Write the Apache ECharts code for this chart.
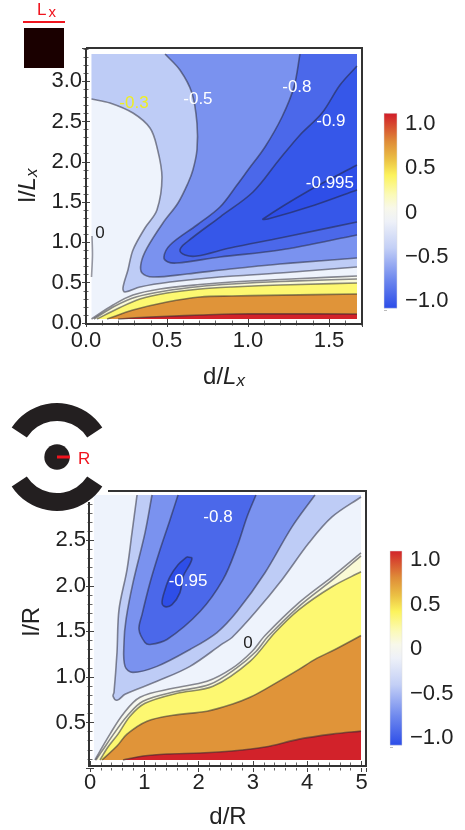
<!DOCTYPE html>
<html>
<head>
<meta charset="utf-8">
<style>
  html, body { margin: 0; padding: 0; background: #fff; }
  #chart { width: 465px; height: 830px; }
</style>
<script src="https://cdn.jsdelivr.net/npm/echarts@6/dist/echarts.min.js"></script>
</head>
<body>
<div id="chart"></div>
<script>
// contour colours, shared by both panels
const colWhite = "#EEF3FC";
const colLight = "#BECCF6";
const colMid = "#7A92EF";
const colDeep = "#4B68EA";
const colDeeper = "#3657E9";
const colDeepest = "#2E4EE8";
const colPale = "#F6F7EE";
const colCream = "#FAFAD6";
const colYellow = "#FDF871";
const colOrange = "#E09439";
const colRed = "#D2222A";

// upper panel, contours in d/Lx, l/Lx
const topLeft = 0.034, topRight = 1.673, topLow = 0.05, topHigh = 3.337;
const topM03 = [[0.034,2.779],[0.148,2.73],[0.29,2.605],[0.395,2.419],[0.438,2.184],[0.469,1.811],[0.438,1.402],[0.364,1.179],[0.29,0.906],[0.259,0.658],[0.228,0.434],[0.241,0.385],[0.333,0.447],[0.519,0.509],[0.827,0.571],[1.198,0.62],[1.673,0.695]];
const topM05 = [[0.488,3.337],[0.58,3.139],[0.654,2.854],[0.685,2.481],[0.685,2.146],[0.66,1.898],[0.63,1.737],[0.568,1.489],[0.475,1.241],[0.377,0.931],[0.34,0.744],[0.346,0.62],[0.414,0.571],[0.623,0.608],[0.889,0.67],[1.198,0.732],[1.673,0.806]];
const topM08 = [[1.321,3.337],[1.284,2.928],[1.21,2.556],[1.105,2.184],[1.0,1.898],[0.932,1.712],[0.827,1.439],[0.685,1.216],[0.519,0.968],[0.481,0.819],[0.506,0.757],[0.562,0.744],[0.827,0.819],[1.198,0.906],[1.673,1.092]];
const topM09 = [[1.673,3.189],[1.568,2.953],[1.457,2.605],[1.321,2.333],[1.191,2.022],[1.031,1.625],[0.827,1.315],[0.623,1.005],[0.58,0.906],[0.611,0.844],[0.685,0.831],[0.889,0.931],[1.198,1.055],[1.673,1.253]];
const topM0995 = [[1.673,1.96],[1.383,1.65],[1.093,1.29],[1.123,1.29],[1.414,1.464],[1.673,1.65]];
const topZero = [[0.037,1.08],[0.04,0.84],[0.034,0.57]];
const topPale = [[0.034,0.05],[0.167,0.223],[0.29,0.347],[0.457,0.422],[0.704,0.478],[0.901,0.509],[1.198,0.54],[1.673,0.583]];
const topCream = [[0.049,0.05],[0.179,0.211],[0.309,0.323],[0.488,0.397],[0.704,0.453],[0.901,0.484],[1.198,0.515],[1.673,0.546]];
const topYellow = [[0.068,0.05],[0.191,0.174],[0.333,0.298],[0.5,0.372],[0.704,0.422],[0.901,0.447],[1.198,0.471],[1.673,0.496]];
const topOrange = [[0.13,0.05],[0.29,0.161],[0.5,0.261],[0.704,0.323],[0.901,0.335],[1.673,0.36]];
const topRed = [[0.198,0.05],[0.395,0.074],[0.704,0.099],[0.901,0.112],[1.673,0.112]];
const topLabelText = ["-0.3", "-0.5", "-0.8", "-0.9", "-0.995", "0"];
const topLabelX = [0.296, 0.691, 1.302, 1.512, 1.506, 0.086];
const topLabelY = [2.73, 2.779, 2.928, 2.506, 1.737, 1.117];
const topLabelColor = ["#EEEE22", "#fff", "#fff", "#fff", "#fff", "#222"];

// lower panel, contours in d/R, l/R
const lowLeft = 0.074, lowRight = 4.991, lowLow = 0.088, lowHigh = 2.998;
const lowM03 = [[0.866,2.998],[0.773,2.582],[0.681,2.177],[0.534,1.74],[0.497,1.269],[0.442,0.83],[0.424,0.788],[0.497,0.744],[0.645,0.81],[1.234,0.952],[1.842,1.116],[2.449,1.368],[2.615,1.433],[3.039,1.707],[3.536,2.068],[4.033,2.473],[4.457,2.757],[4.991,2.976]];
const lowM05 = [[1.142,2.998],[1.013,2.582],[0.792,2.035],[0.663,1.63],[0.626,1.379],[0.645,1.116],[0.792,1.05],[1.234,1.116],[1.842,1.302],[2.339,1.488],[2.707,1.718],[3.223,2.144],[3.72,2.648],[4.144,2.998]];
const lowM08 = [[1.621,2.998],[1.473,2.724],[1.289,2.396],[1.105,2.035],[0.958,1.685],[0.902,1.521],[1.013,1.379],[1.105,1.357],[1.418,1.411],[2.026,1.718],[2.449,2.068],[2.707,2.429],[2.891,2.757],[3.057,2.998]];
const lowM095 = [[1.786,2.319],[1.878,2.298],[1.713,2.101],[1.657,1.926],[1.51,1.794],[1.381,1.772],[1.326,1.816],[1.381,1.958],[1.473,2.101],[1.621,2.232],[1.786,2.319]];
const lowPale = [[0.092,0.088],[0.184,0.186],[0.368,0.372],[0.608,0.591],[0.921,0.777],[1.529,0.875],[2.155,0.952],[2.615,1.094],[2.983,1.28],[3.223,1.455],[3.849,1.816],[4.457,2.1],[4.991,2.363]];
const lowCream = [[0.11,0.088],[0.221,0.186],[0.46,0.394],[0.681,0.569],[0.976,0.733],[1.602,0.842],[2.21,0.919],[2.689,1.094],[3.057,1.28],[3.278,1.444],[3.886,1.794],[4.494,2.079],[4.991,2.33]];
const lowYellow = [[0.184,0.088],[0.331,0.23],[0.516,0.372],[0.737,0.569],[1.013,0.711],[1.602,0.821],[2.265,0.897],[2.947,1.171],[3.407,1.488],[3.849,1.74],[4.457,1.991],[4.991,2.155]];
const lowOrange = [[0.221,0.088],[0.497,0.241],[0.681,0.372],[1.05,0.514],[1.529,0.58],[2.155,0.624],[2.615,0.7],[2.947,0.777],[3.223,0.864],[3.849,1.083],[4.144,1.193],[4.512,1.302],[4.991,1.455]];
const lowRed = [[0.608,0.088],[0.976,0.131],[1.418,0.153],[2.026,0.164],[2.615,0.186],[3.223,0.23],[3.849,0.317],[4.457,0.372],[4.991,0.405]];
const lowLabelText = ["-0.8", "-0.95", "0"];
const lowLabelX = [2.357, 1.805, 2.91];
const lowLabelY = [2.757, 2.046, 1.368];
const lowLabelColor = ["#fff", "#fff", "#222"];

// colour bars
const barValues = [-1.08, -0.75, -0.4, -0.1, 0.05, 0.2, 0.42, 0.6, 0.8, 1.1];
const barColors = ["#2B4CE8", "#6F89EE", "#C3CFF6", "#EEF1F8", "#F8F8EA", "#FBFAB8", "#FCF35C", "#EBC044", "#DF8C38", "#D2222A"];
const barTicks = [-1, -0.5, 0, 0.5, 1];

const fontName = "'Liberation Sans', Arial, sans-serif";
const xAxes = [], yAxes = [], grids = [], series = [];

// smooth curve through the read points; handle length follows each segment
function smoothPath(pts) {
  const dirs = pts.map(function (p, i) {
    const a = pts[Math.max(i - 1, 0)], b = pts[Math.min(i + 1, pts.length - 1)];
    const dx = b[0] - a[0], dy = b[1] - a[1], len = Math.hypot(dx, dy) || 1;
    return [dx / len, dy / len];
  });
  let d = "M" + pts[0][0] + " " + pts[0][1];
  for (let i = 0; i < pts.length - 1; i++) {
    const p1 = pts[i], p2 = pts[i + 1];
    const h = Math.hypot(p2[0] - p1[0], p2[1] - p1[1]) / 3;
    d += "C" + (p1[0] + dirs[i][0] * h) + " " + (p1[1] + dirs[i][1] * h) + " " +
      (p2[0] - dirs[i + 1][0] * h) + " " + (p2[1] - dirs[i + 1][1] * h) + " " + p2[0] + " " + p2[1];
  }
  return d;
}

// one filled region: contour + straight closing corners, then the contour line on top
function addRegion(axis, contour, corners, color, lineColor) {
  series.push({
    type: "custom",
    coordinateSystem: "cartesian2d",
    xAxisIndex: axis.x,
    yAxisIndex: axis.y,
    clip: false,
    silent: true,
    data: contour,
    renderItem: function (params, api) {
      if (params.dataIndex !== 0) return;
      const pts = contour.map(function (p) { return api.coord(p); });
      const children = [];
      if (color) {
        let d = smoothPath(pts);
        corners.forEach(function (c) {
          const q = api.coord(c);
          d += "L" + q[0] + " " + q[1];
        });
        children.push({ type: "path", shape: { pathData: d + "Z" }, style: { fill: color, stroke: null } });
      }
      if (lineColor) {
        children.push({ type: "path", shape: { pathData: smoothPath(pts) }, style: { fill: null, stroke: lineColor, lineWidth: 1.6 } });
      }
      return { type: "group", children: children };
    },
  });
}

function addLabels(axis, texts, xs, ys, colors) {
  series.push({
    type: "custom",
    coordinateSystem: "cartesian2d",
    xAxisIndex: axis.x,
    yAxisIndex: axis.y,
    clip: false,
    silent: true,
    z: 5,
    data: texts.map(function (t, i) { return [xs[i], ys[i]]; }),
    encode: { x: 0, y: 1 },
    renderItem: function (params, api) {
      const p = api.coord([api.value(0), api.value(1)]);
      return {
        type: "text",
        style: {
          text: texts[params.dataIndex],
          x: p[0],
          y: p[1],
          fill: colors[params.dataIndex],
          font: "17px " + fontName,
          align: "center",
          verticalAlign: "middle",
        },
      };
    },
  });
}

// plot with a Mathematica style frame: inward ticks on all four sides
function addPlot(box, xCfg, yCfg) {
  const gridIndex = grids.length;
  grids.push({ left: box.left, top: box.top, width: box.width, height: box.height, containLabel: false });
  const tick = { show: true, inside: true, length: 4, lineStyle: { color: "#444", width: 1 } };
  const minor = { show: true, splitNumber: 5, length: 2.5, lineStyle: { color: "#666", width: 1 } };
  const labelStyle = { fontFamily: fontName, fontSize: 22, color: "#222", showMaxLabel: false };
  const x = xAxes.length;
  xAxes.push({
    type: "value", gridIndex: gridIndex, position: "bottom", offset: box.xOffset || 0,
    min: xCfg.min, max: xCfg.max, interval: xCfg.interval,
    axisLine: { show: false }, splitLine: { show: false }, axisTick: tick, minorTick: minor,
    axisLabel: Object.assign({}, labelStyle, { margin: 7, formatter: xCfg.format }),
    name: xCfg.name, nameLocation: "middle", nameGap: xCfg.gap,
    nameTextStyle: { fontFamily: fontName, fontSize: 24, color: "#222", rich: xCfg.rich },
  });
  xAxes.push({
    type: "value", gridIndex: gridIndex, position: "top",
    min: xCfg.min, max: xCfg.max, interval: xCfg.interval,
    axisLine: { show: false }, splitLine: { show: false }, axisTick: tick, minorTick: minor, axisLabel: { show: false },
  });
  const y = yAxes.length;
  yAxes.push({
    type: "value", gridIndex: gridIndex, position: "left",
    min: yCfg.min, max: yCfg.max, interval: yCfg.interval,
    axisLine: { show: false }, splitLine: { show: false }, axisTick: tick, minorTick: minor,
    axisLabel: Object.assign({}, labelStyle, { margin: 4, padding: [4, 0, 0, 0], showMinLabel: yCfg.showMin, formatter: yCfg.format }),
    name: yCfg.name, nameLocation: "middle", nameGap: yCfg.gap,
    nameTextStyle: { fontFamily: fontName, fontSize: 24, color: "#222", rich: yCfg.rich, padding: yCfg.padding || 0 },
  });
  yAxes.push({
    type: "value", gridIndex: gridIndex, position: "right",
    min: yCfg.min, max: yCfg.max, interval: yCfg.interval,
    axisLine: { show: false }, splitLine: { show: false }, axisTick: tick, minorTick: minor, axisLabel: { show: false },
  });
  return { x: x, y: y };
}

function addColorBar(box, low, high) {
  const gridIndex = grids.length;
  grids.push({ left: box.left, top: box.top, width: box.width, height: box.height });
  const x = xAxes.length, y = yAxes.length;
  xAxes.push({ type: "value", gridIndex: gridIndex, min: 0, max: 1, show: false });
  yAxes.push({
    type: "value", gridIndex: gridIndex, position: "right", min: -1.1, max: box.max, interval: 0.1,
    axisLine: { show: false }, splitLine: { show: false },
    axisTick: { show: true, length: 3, lineStyle: { color: "#bbb", width: 1 } },
    axisLabel: {
      customValues: barTicks, margin: box.margin, fontFamily: fontName, fontSize: 22, color: "#222", align: "left",
      formatter: function (v) {
        if (v === 0) return "0";
        return (v < 0 ? "\u2212" : "") + Math.abs(v).toFixed(1);
      },
    },
  });
  series.push({
    type: "custom",
    coordinateSystem: "cartesian2d",
    xAxisIndex: x,
    yAxisIndex: y,
    clip: false,
    silent: true,
    data: [[0, low]],
    renderItem: function (params, api) {
      const a = api.coord([0, high]), b = api.coord([1, low]);
      return {
        type: "rect",
        shape: { x: a[0], y: a[1], width: b[0] - a[0], height: b[1] - a[1] },
        style: {
          fill: {
            type: "linear", x: 0, y: 0, x2: 0, y2: 1,
            colorStops: barValues.map(function (v, i) {
              return { offset: (high - v) / (high - low), color: barColors[i] };
            }).reverse(),
          },
          stroke: "#ddd",
          lineWidth: 0.5,
        },
      };
    },
  });
}

const nameRich = {
  it: { fontFamily: fontName, fontSize: 24, fontStyle: "italic", color: "#222" },
  sub: { fontFamily: fontName, fontSize: 17, fontStyle: "italic", color: "#222", verticalAlign: "bottom", padding: [8, 0, 0, 0] },
};
function oneDecimal(v) { return v.toFixed(1); }

// upper panel
const topAxis = addPlot(
  { left: 86, top: 48, width: 276, height: 275 },
  { min: 0, max: 1.704, interval: 0.5, format: oneDecimal, name: "d/{it|L}{sub|x}", gap: 42, rich: nameRich },
  { min: 0, max: 3.412, interval: 0.5, format: oneDecimal, showMin: true, name: "l/{it|L}{sub|x}", gap: 41, rich: nameRich }
);
const topLine = "rgba(35,35,50,0.52)";
addRegion(topAxis, [[topLeft, topLow], [topRight, topLow]], [[topRight, topHigh], [topLeft, topHigh]], colWhite, null);
addRegion(topAxis, topM03, [[topRight, topHigh], [topLeft, topHigh]], colLight, topLine);
addRegion(topAxis, topM05, [[topRight, topHigh]], colMid, topLine);
addRegion(topAxis, topM08, [[topRight, topHigh]], colDeep, topLine);
addRegion(topAxis, topM09, [], colDeeper, topLine);
addRegion(topAxis, topM0995, [], colDeepest, topLine);
addRegion(topAxis, topZero, [], null, "rgba(35,35,50,0.45)");
[[topPale, colPale], [topCream, colCream], [topYellow, colYellow], [topOrange, colOrange], [topRed, colRed]].forEach(function (r) {
  addRegion(topAxis, r[0], [[topRight, topLow]], r[1], topLine);
});
addLabels(topAxis, topLabelText, topLabelX, topLabelY, topLabelColor);
addColorBar({ left: 384, top: 113, width: 13, height: 197, max: 1.124, margin: 8 }, -1.08, 1.12);

// lower panel
const lowAxis = addPlot(
  { left: 90, top: 491, width: 276, height: 278, xOffset: -3 },
  { min: 0, max: 5.083, interval: 1, format: function (v) { return String(v); }, name: "d/R", gap: 40 },
  {
    min: 0, max: 3.042, interval: 0.5, showMin: false, name: "l/R", gap: 45, padding: [0, 0, 0, 16],
    format: function (v) { return v >= 3 ? "" : v.toFixed(1); },
  }
);
addRegion(lowAxis, [[lowLeft, lowLow], [lowRight, lowLow]], [[lowRight, lowHigh], [lowLeft, lowHigh]], colWhite, null);
addRegion(lowAxis, lowM03, [[lowRight, lowHigh]], colLight, topLine);
addRegion(lowAxis, lowM05, [], colMid, topLine);
addRegion(lowAxis, lowM08, [], colDeep, topLine);
addRegion(lowAxis, lowM095, [], colDeepest, topLine);
[[lowPale, colPale], [lowCream, colCream], [lowYellow, colYellow], [lowOrange, colOrange], [lowRed, colRed]].forEach(function (r) {
  addRegion(lowAxis, r[0], [[lowRight, lowLow]], r[1], topLine);
});
addLabels(lowAxis, lowLabelText, lowLabelX, lowLabelY, lowLabelColor);
addColorBar({ left: 390, top: 551, width: 12, height: 196, max: 1.1, margin: 8 }, -1.08, 1.1);

// frames and the two small geometry sketches
const frameLine = { stroke: "#333", lineWidth: 2, fill: null };
const graphicEls = [
  { type: "polyline", z: 20, shape: { points: [[86, 48], [362, 48], [362, 324], [86, 324], [86, 48]] }, style: frameLine },
  { type: "polyline", z: 20, shape: { points: [[108, 491], [366, 491], [366, 766], [89, 766], [89, 502]] }, style: frameLine },
  { type: "rect", z: 20, shape: { x: 24, y: 28, width: 40, height: 40 }, style: { fill: "#1A0000" } },
  { type: "line", z: 20, shape: { x1: 23, y1: 22, x2: 65, y2: 22 }, style: { stroke: "#F0141E", lineWidth: 2 } },
  {
    type: "text", z: 20, x: 37, y: 0,
    style: {
      text: "{a|L}{b|x}",
      rich: {
        a: { fontFamily: fontName, fontSize: 17, fill: "#F0141E", lineHeight: 17 },
        b: { fontFamily: fontName, fontSize: 15, fill: "#F0141E", padding: [5, 0, 0, 2] },
      },
    },
  },
  { type: "sector", z: 20, shape: { cx: 57, cy: 457, r: 54, r0: 36, startAngle: (-147 * Math.PI) / 180, endAngle: (-33 * Math.PI) / 180 }, style: { fill: "#231F20" } },
  { type: "sector", z: 20, shape: { cx: 57, cy: 457, r: 54, r0: 36, startAngle: (33 * Math.PI) / 180, endAngle: (147 * Math.PI) / 180 }, style: { fill: "#231F20" } },
  { type: "circle", z: 20, shape: { cx: 57, cy: 457, r: 12.7 }, style: { fill: "#231F20" } },
  { type: "line", z: 21, shape: { x1: 57, y1: 457, x2: 70, y2: 457 }, style: { stroke: "#F0141E", lineWidth: 3 } },
  { type: "text", z: 20, x: 78, y: 451, style: { text: "R", fontFamily: fontName, fontSize: 17, fill: "#F0141E" } },
];

const myChart = echarts.init(document.getElementById("chart"), null, { renderer: "canvas" });
myChart.setOption({
  animation: false,
  backgroundColor: "#fff",
  grid: grids,
  xAxis: xAxes,
  yAxis: yAxes,
  series: series,
  graphic: graphicEls,
});
</script>
</body>
</html>
